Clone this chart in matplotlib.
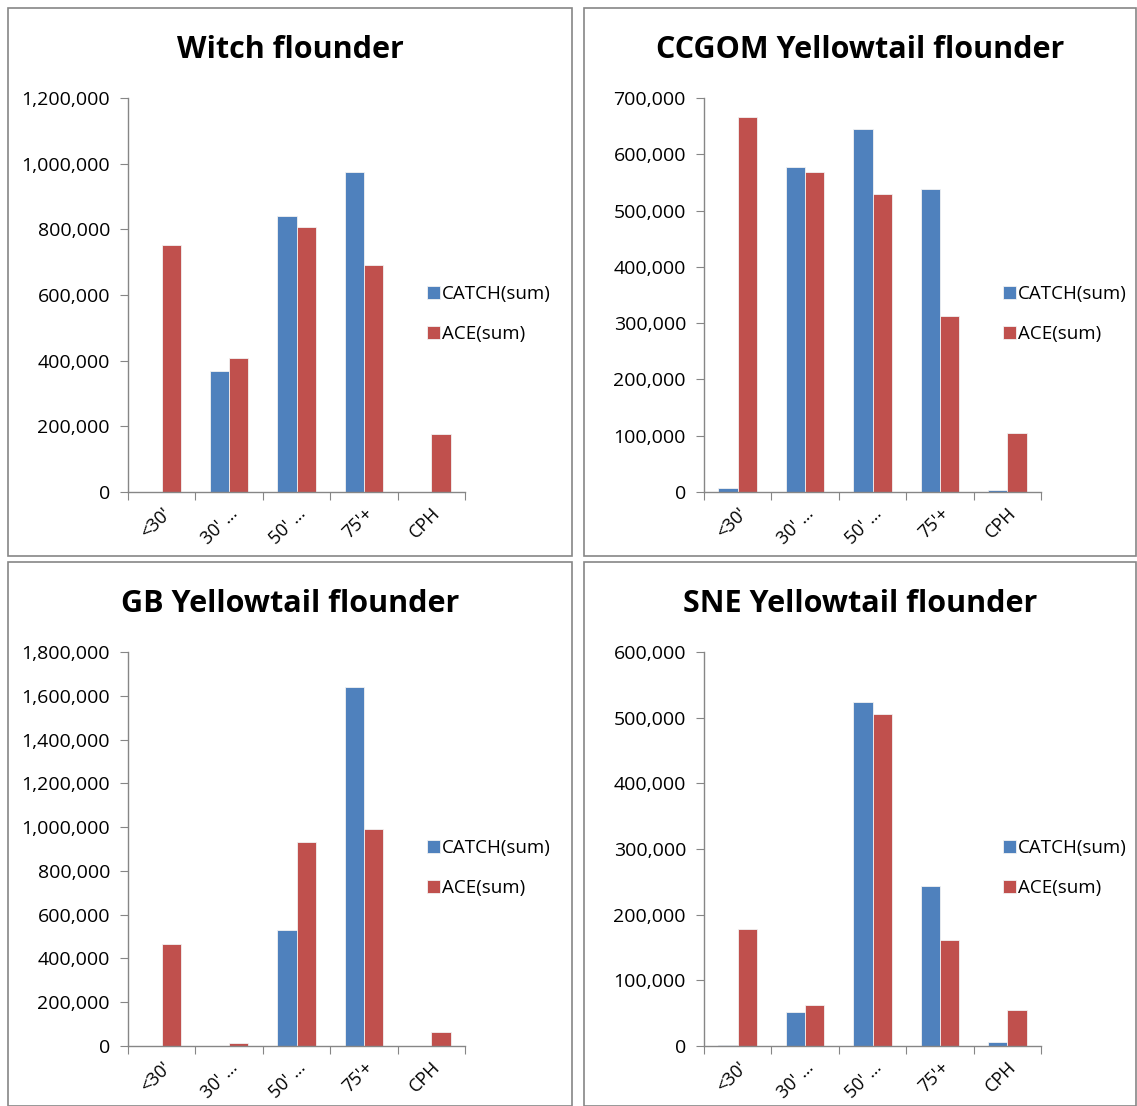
import numpy as np
import matplotlib
matplotlib.use("Agg")
import matplotlib.pyplot as plt
from matplotlib.patches import Rectangle
from matplotlib.ticker import FuncFormatter, MultipleLocator

# categories and values
categories = ["<30'", "30' \u2026", "50' \u2026", "75'+", "CPH"]
titles = ["Witch flounder", "CCGOM Yellowtail flounder",
          "GB Yellowtail flounder", "SNE Yellowtail flounder"]

witch_catch = [1000, 368000, 841000, 975000, 1000]
witch_ace = [752000, 408000, 807000, 691000, 177000]

ccgom_catch = [7000, 577000, 645000, 538000, 4000]
ccgom_ace = [666000, 569000, 529000, 313000, 105000]

gb_catch = [1000, 1000, 530000, 1640000, 0]
gb_ace = [467000, 12000, 932000, 991000, 64000]

sne_catch = [1000, 52000, 524000, 244000, 6000]
sne_ace = [178000, 62000, 506000, 161000, 55000]

catch_series = [witch_catch, ccgom_catch, gb_catch, sne_catch]
ace_series = [witch_ace, ccgom_ace, gb_ace, sne_ace]
y_max = [1200000, 700000, 1800000, 600000]
y_step = [200000, 100000, 200000, 100000]

BLUE = "#4F81BD"
RED = "#C0504D"
GREY = "#868686"

plt.rcParams["font.family"] = ["Open Sans", "DejaVu Sans"]

W, H = 1137, 1106
fig = plt.figure(figsize=(W / 100, H / 100), dpi=100)

# panel frames (pixel boxes) and axes boxes
frames = [(8, 8, 572, 556), (584, 8, 1136, 556),
          (8, 562, 572, 1106), (584, 562, 1136, 1106)]
axes_px = [(128, 98, 465, 492), (704, 98, 1041, 492),
           (128, 652, 465, 1046), (704, 652, 1041, 1046)]

for (x0, y0, x1, y1) in frames:
    fig.patches.append(Rectangle((x0 / W, 1 - y1 / H), (x1 - x0) / W, (y1 - y0) / H,
                                 transform=fig.transFigure, fill=False,
                                 edgecolor=GREY, linewidth=1.2))

x = np.arange(len(categories))
bw = 0.286

for i in range(4):
    x0, y0, x1, y1 = axes_px[i]
    ax = fig.add_axes([x0 / W, 1 - y1 / H, (x1 - x0) / W, (y1 - y0) / H])
    ax.bar(x - bw / 2, catch_series[i], bw, color=BLUE, edgecolor="#f2f2f2",
           linewidth=0.6, label="CATCH(sum)")
    ax.bar(x + bw / 2, ace_series[i], bw, color=RED, edgecolor="#f2f2f2",
           linewidth=0.6, label="ACE(sum)")
    ax.set_xlim(-0.5, len(categories) - 0.5)
    ax.set_ylim(0, y_max[i])
    ax.yaxis.set_major_locator(MultipleLocator(y_step[i]))
    ax.yaxis.set_major_formatter(FuncFormatter(lambda v, p: f"{int(v):,}"))

    # boundary ticks without labels, centred labels without ticks
    ax.set_xticks(np.arange(-0.5, len(categories), 1.0))
    ax.set_xticklabels([])
    ax.set_xticks(x, minor=True)
    ax.set_xticklabels(categories, minor=True, rotation=45, ha="right",
                       va="top", rotation_mode="anchor", fontsize=13)
    ax.tick_params(axis="x", which="major", length=6, color=GREY, direction="out")
    ax.tick_params(axis="x", which="minor", length=0, pad=9)
    ax.tick_params(axis="y", length=6, color=GREY, labelsize=14, pad=7)

    for s in ["top", "right"]:
        ax.spines[s].set_visible(False)
    for s in ["left", "bottom"]:
        ax.spines[s].set_color(GREY)
        ax.spines[s].set_linewidth(1.0)

    fx0, fy0, fx1, fy1 = frames[i]
    title_x = ((fx0 + fx1) / 2 - x0) / (x1 - x0)
    ax.set_title(titles[i], fontsize=22, fontweight="bold", pad=29, x=title_x)

    ax.legend(loc="center left", bbox_to_anchor=(0.888, 0.452), frameon=False,
              fontsize=13.5, handlelength=0.7, handleheight=0.7,
              handletextpad=0.1, labelspacing=1.15, borderpad=0,
              borderaxespad=0)

fig.savefig("out.png", dpi=100)
